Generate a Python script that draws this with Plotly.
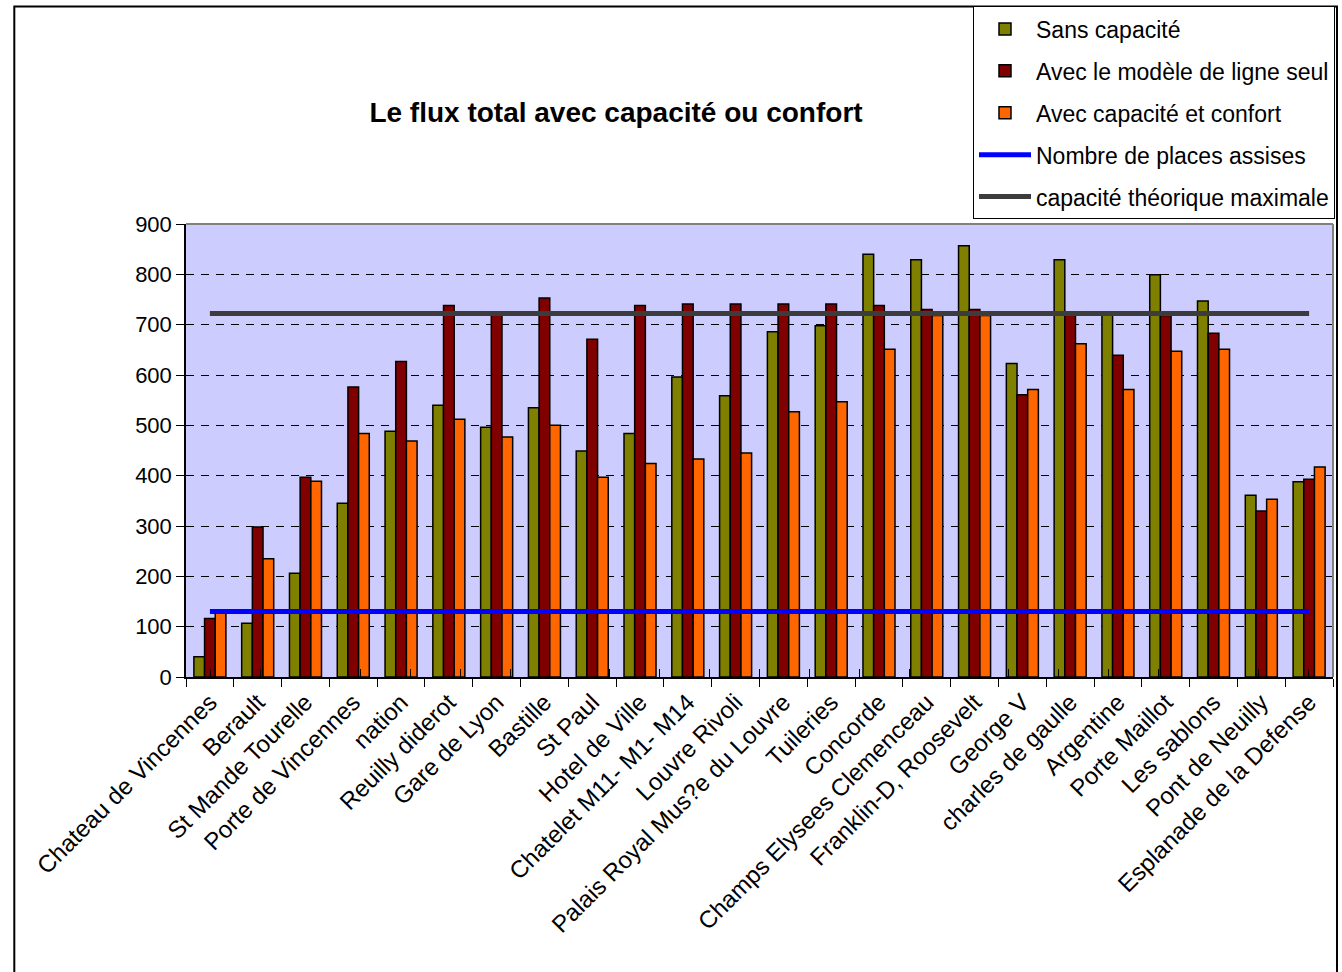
import plotly.graph_objects as go

categories = ["Chateau de Vincennes", "Berault", "St Mande Tourelle", "Porte de Vincennes",
              "nation", "Reuilly diderot", "Gare de Lyon", "Bastille", "St Paul",
              "Hotel de Ville", "Chatelet M11- M1- M14", "Louvre Rivoli",
              "Palais Royal Mus?e du Louvre", "Tuileries", "Concorde",
              "Champs Elysees Clemenceau", "Franklin-D, Roosevelt", "George V",
              "charles de gaulle", "Argentine", "Porte Maillot", "Les sablons",
              "Pont de Neuilly", "Esplanade de la Defense"]

sans_capacite = [40, 107, 206, 345, 488, 540, 496, 535, 449, 484, 596, 559,
                 686, 698, 840, 829, 857, 623, 829, 722, 799, 747, 361, 388]
modele_ligne = [116, 298, 397, 576, 627, 738, 725, 753, 671, 738, 741, 741,
                741, 741, 738, 730, 730, 561, 720, 639, 718, 683, 330, 393]
capacite_confort = [130, 235, 389, 484, 469, 512, 477, 500, 397, 424, 433, 445,
                    527, 547, 651, 718, 718, 571, 662, 571, 647, 651, 353, 417]
places_assises = [130] * len(categories)
capacite_max = [722] * len(categories)

FONT = "Liberation Sans, Arial, sans-serif"

fig = go.Figure()
bar_line = dict(color="black", width=1.5)
fig.add_trace(go.Bar(x=categories, y=sans_capacite, name="Sans capacité",
                     marker=dict(color="#808000", line=bar_line), legendgroup="a"))
fig.add_trace(go.Bar(x=categories, y=modele_ligne, name="Avec le modèle de ligne seul",
                     marker=dict(color="#800000", line=bar_line), legendgroup="b"))
fig.add_trace(go.Bar(x=categories, y=capacite_confort, name="Avec capacité et confort",
                     marker=dict(color="#FF6600", line=bar_line), legendgroup="c"))
fig.add_trace(go.Scatter(x=categories, y=places_assises, name="Nombre de places assises",
                         mode="lines", line=dict(color="#0000FF", width=5), legendgroup="d"))
fig.add_trace(go.Scatter(x=categories, y=capacite_max, name="capacité théorique maximale",
                         mode="lines", line=dict(color="#3C3C3C", width=5), legendgroup="e"))
# invisible helper trace to draw the inner half of the crossing tick marks
fig.add_trace(go.Scatter(x=categories, y=[None] * len(categories), xaxis="x2", yaxis="y2",
                         mode="lines", showlegend=False, hoverinfo="skip"))

L, R, T, B = 186, 7, 223, 295
PW = 1342 - L - R
PH = 972 - T - B

def px_x(p):
    return (p - L) / PW

def px_y(p):
    return (972 - B - p) / PH

fig.update_layout(
    width=1342, height=972,
    margin=dict(l=L, r=R, t=T, b=B),
    paper_bgcolor="white",
    plot_bgcolor="#CCCCFF",
    font=dict(family=FONT, color="black"),
    barmode="group",
    bargap=0.33,
    bargroupgap=0,
    title=dict(text="<b>Le flux total avec capacité ou confort</b>",
               x=616 / 1342, xanchor="center", xref="container",
               y=1 - 112 / 972, yanchor="middle", yref="container",
               font=dict(size=28, family=FONT, color="black")),
    legend=dict(x=px_x(1337), xanchor="right", y=px_y(5), yanchor="top",
                bgcolor="white", bordercolor="black", borderwidth=1,
                font=dict(size=23, family=FONT, color="black"),
                tracegroupgap=9, traceorder="grouped", itemwidth=52),
    showlegend=True,
    xaxis2=dict(overlaying="x", anchor="y", side="bottom", type="category",
                ticks="inside", ticklen=8, tickcolor="black", tickson="boundaries",
                showticklabels=False, showgrid=False, showline=False),
    yaxis2=dict(overlaying="y", anchor="x", side="left", range=[0, 900], dtick=100,
                ticks="inside", ticklen=8, tickcolor="black",
                showticklabels=False, showgrid=False, showline=False, zeroline=False),
)

fig.layout.xaxis.update(type="category", showline=True, linecolor="black", linewidth=1.5,
                        ticks="outside", ticklen=8, tickcolor="black", tickson="boundaries",
                        tickangle=-45, tickfont=dict(size=24, family=FONT, color="black"),
                        showgrid=False)
fig.layout.yaxis.update(range=[0, 900], dtick=100, showline=True, linecolor="black",
                        linewidth=1.5, ticks="outside", ticklen=8, tickcolor="black",
                        tickfont=dict(size=22, family=FONT, color="black"),
                        showgrid=True, gridcolor="black", gridwidth=1, griddash="8px,7px",
                        zeroline=False)

# plot area border (top and right)
fig.add_shape(type="line", xref="paper", yref="paper", x0=0, x1=1, y0=1, y1=1,
              line=dict(color="#808080", width=2))
fig.add_shape(type="line", xref="paper", yref="paper", x0=1, x1=1, y0=0, y1=1,
              line=dict(color="#808080", width=2))
# outer chart border
fig.add_shape(type="rect", xref="paper", yref="paper",
              x0=px_x(14), x1=px_x(1339), y0=px_y(1000), y1=px_y(5),
              line=dict(color="black", width=2), fillcolor="rgba(0,0,0,0)")

fig.write_html("out.html")
